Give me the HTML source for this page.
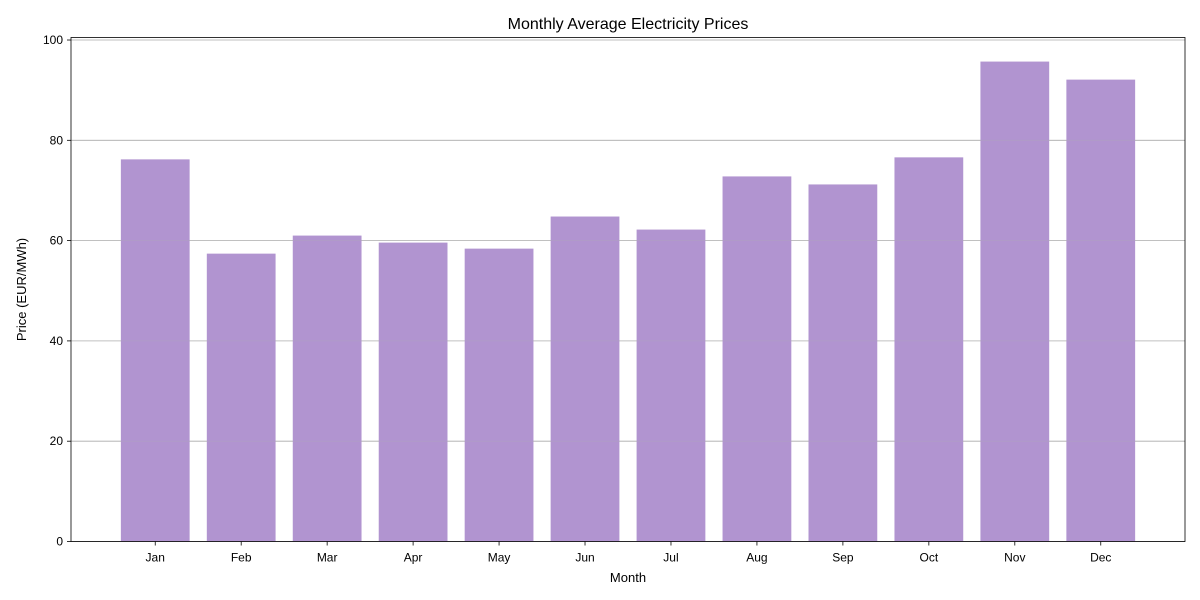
<!DOCTYPE html>
<html><head><meta charset="utf-8"><style>
body{margin:0;background:#fff;}
svg{display:block;font-family:"Liberation Sans","DejaVu Sans",sans-serif;}
</style></head><body>
<svg id="chart" width="1200" height="600"></svg>
<script>
const categories=["Jan","Feb","Mar","Apr","May","Jun","Jul","Aug","Sep","Oct","Nov","Dec"];
const prices=[76.2,57.4,61.0,59.6,58.4,64.8,62.2,72.8,71.2,76.6,95.7,92.1];
const yTicks=[0,20,40,60,80,100];
const NS="http://www.w3.org/2000/svg";
const svg=document.getElementById('chart');
const L=71,R=1185,T=37.5,B=541.5;
const xMin=-0.98,xMax=11.98,yMax=100.5;
const xs=v=>L+(v-xMin)/(xMax-xMin)*(R-L);
const ys=v=>B-v/yMax*(B-T);
function mk(t,a,p){const e=document.createElementNS(NS,t);for(const k in a)e.setAttribute(k,a[k]);(p||svg).appendChild(e);return e;}
// grid
yTicks.forEach(t=>{
  const g=mk('line',{x1:L,x2:R,y1:ys(t),y2:ys(t),stroke:'#b0b0b0','stroke-width':0.8});
  
  
  mk('line',{x1:L-4,x2:L,y1:ys(t),y2:ys(t),stroke:'#000','stroke-width':0.8});
  const tx=mk('text',{x:L-8,y:ys(t)+4,'text-anchor':'end','font-size':12});
  tx.textContent=t;
  
  
});
// bars
categories.forEach((c,i)=>{
  const w=0.8*(xs(1)-xs(0));
  const b=mk('rect',{x:xs(i)-w/2,y:ys(prices[i]),width:w,height:B-ys(prices[i]),fill:'#b194d0'});
  
  
  mk('line',{x1:xs(i),x2:xs(i),y1:B,y2:B+4,stroke:'#000','stroke-width':0.8});
  const tx=mk('text',{x:xs(i),y:B+20,'text-anchor':'middle','font-size':12});
  tx.textContent=c;
  
  
});
// faint grid showing through semi-transparent bars
yTicks.forEach(t=>{
  if(t>0) mk('line',{x1:L,x2:R,y1:ys(t),y2:ys(t),stroke:'#b0b0b0','stroke-width':0.8,'stroke-opacity':0.3});
});
const fr=mk('rect',{x:L,y:T,width:R-L,height:B-T,fill:'none',stroke:'#000','stroke-width':0.8});


const title=mk('text',{x:(L+R)/2,y:29,'text-anchor':'middle','font-size':16});
title.textContent='Monthly Average Electricity Prices';


const xl=mk('text',{x:(L+R)/2,y:582,'text-anchor':'middle','font-size':13});
xl.textContent='Month';


const yl=mk('text',{x:0,y:0,'text-anchor':'middle','font-size':13,transform:'translate(26,'+((T+B)/2)+') rotate(-90)'});
yl.textContent='Price (EUR/MWh)';


</script>
</body></html>
